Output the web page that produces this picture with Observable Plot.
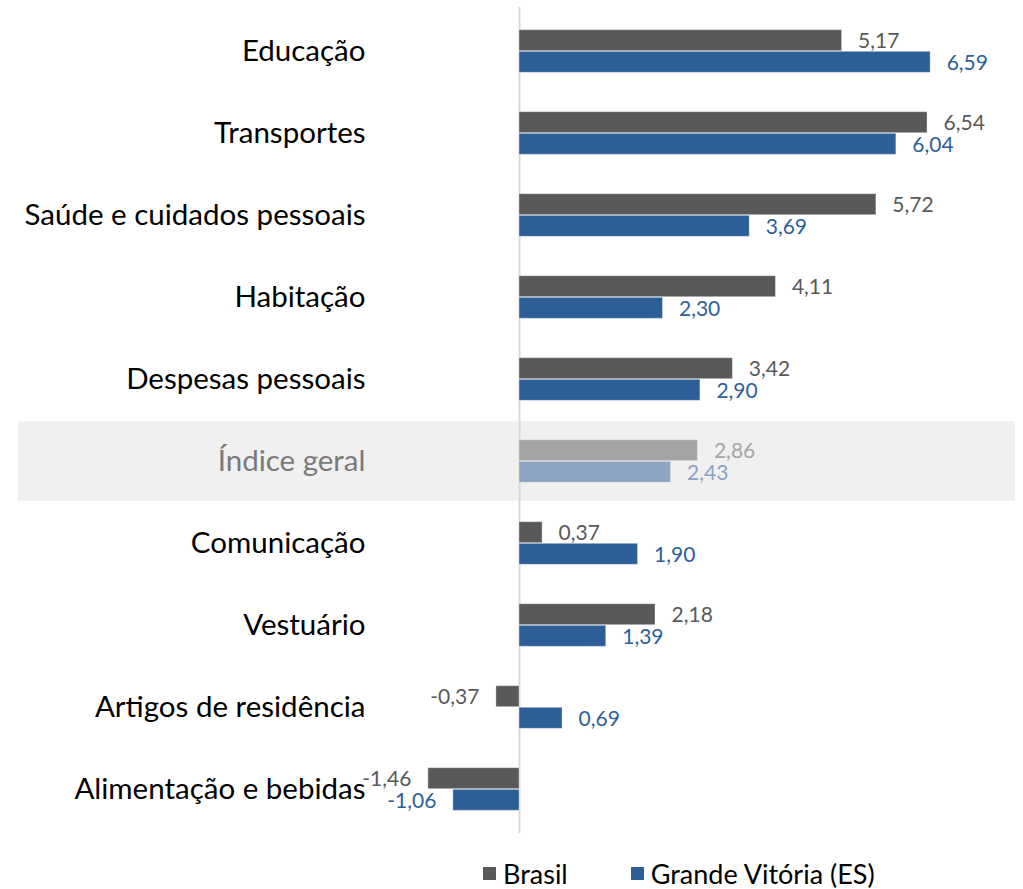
<!DOCTYPE html>
<html>
<head>
<meta charset="utf-8">
<script src="https://cdn.jsdelivr.net/npm/d3@7"></script>
<script src="https://cdn.jsdelivr.net/npm/@observablehq/plot@0.6"></script>
<style>
  html, body { margin: 0; padding: 0; background: #fff; }
  #chart { width: 1023px; }
  .legend { height: 41px; display: flex; align-items: center; padding-left: 483px; font-family: Lato, "Open Sans", sans-serif; font-size: 27px; color: #000; box-sizing: border-box; padding-top: 9px; }
  .legend .sw { display: inline-block; width: 13px; height: 13px; margin-right: 7px; }
  .legend .item { display: flex; align-items: center; }
</style>
</head>
<body>
<div id="chart"></div>
<div class="legend">
  <span class="item"><span class="sw" style="background:#595959"></span>Brasil</span>
  <span class="item" style="margin-left:63px"><span class="sw" style="background:#2d5e98"></span>Grande Vitória (ES)</span>
</div>
<script>
const categories = ["Educação", "Transportes", "Saúde e cuidados pessoais", "Habitação", "Despesas pessoais", "Índice geral", "Comunicação", "Vestuário", "Artigos de residência", "Alimentação e bebidas"];
const brasil = [5.17, 6.54, 5.72, 4.11, 3.42, 2.86, 0.37, 2.18, -0.37, -1.46];
const grandeVitoria = [6.59, 6.04, 3.69, 2.30, 2.90, 2.43, 1.90, 1.39, 0.69, -1.06];
const highlight = "Índice geral";

const rows = [];
categories.forEach((c, i) => {
  rows.push({category: c, series: "Brasil", value: brasil[i]});
  rows.push({category: c, series: "Grande Vitória (ES)", value: grandeVitoria[i]});
});

const colors = {
  "Brasil": {bar: "#595959", label: "#595959", barHi: "#a3a3a3", labelHi: "#a6a6a6"},
  "Grande Vitória (ES)": {bar: "#2d5e98", label: "#2e5f9c", barHi: "#8da4c2", labelHi: "#8aa3c4"}
};

const fmt = v => v.toFixed(2).replace(".", ",");
const step = 82.6;
const barH = 21.6;
const pad = (step - 2 * barH) / 2;

function barMarks(series, isHi) {
  const top = series === "Brasil";
  const data = rows.filter(d => d.series === series && (d.category === highlight) === isHi);
  const col = colors[series];
  return Plot.barX(data, {
    x: "value", y: "category",
    fill: isHi ? col.barHi : col.bar,
    stroke: "#ffffff", strokeOpacity: 0.35, strokeWidth: 1,
    insetTop: top ? pad : pad + barH,
    insetBottom: top ? pad + barH : pad
  });
}

function labelMarks(series, isHi, positive) {
  const top = series === "Brasil";
  const data = rows.filter(d => d.series === series && (d.category === highlight) === isHi && (d.value >= 0) === positive);
  const col = colors[series];
  return Plot.text(data, {
    x: "value", y: "category", text: d => fmt(d.value),
    fill: isHi ? col.labelHi : col.label,
    textAnchor: positive ? "start" : "end",
    dx: positive ? 16 : -17,
    dy: top ? -barH / 2 + 0.5 : barH / 2 + 0.5,
    fontSize: 21
  });
}

const marks = [
  Plot.cell([highlight], {y: d => d, fill: "#f0f0f0", insetTop: 1.3, insetBottom: 1.3}),
  Plot.ruleX([0], {stroke: "#d9d9d9", strokeWidth: 2})
];
for (const s of ["Brasil", "Grande Vitória (ES)"]) {
  for (const hi of [false, true]) marks.push(barMarks(s, hi));
}
for (const s of ["Brasil", "Grande Vitória (ES)"]) {
  for (const hi of [false, true]) for (const pos of [true, false]) marks.push(labelMarks(s, hi, pos));
}
marks.push(Plot.text(categories.filter(c => c !== highlight), {y: d => d, text: d => d, frameAnchor: "left", dx: 347, textAnchor: "end", fill: "#000", fontSize: 29.5}));
marks.push(Plot.text([highlight], {y: d => d, text: d => d, frameAnchor: "left", dx: 347, textAnchor: "end", fill: "#7a7a7a", fontSize: 29.5}));

const chart = Plot.plot({
  width: 1023,
  height: 848,
  marginLeft: 18,
  marginRight: 8,
  marginTop: 7,
  marginBottom: 15,
  style: {fontFamily: "Lato, 'Open Sans', sans-serif", background: "#fff"},
  x: {domain: [-8.03, 7.95], axis: null},
  y: {domain: categories, padding: 0, axis: null},
  marks
});
document.getElementById("chart").appendChild(chart);
</script>
</body>
</html>
